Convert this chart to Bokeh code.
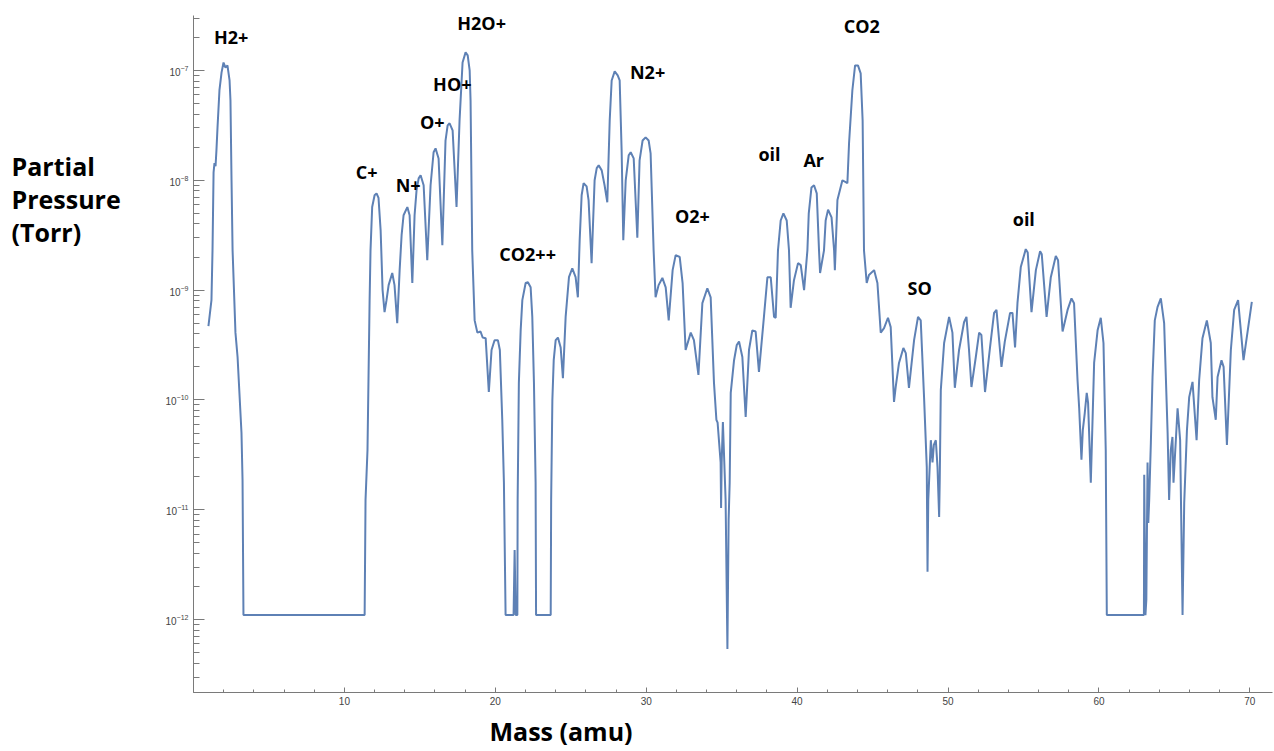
from bokeh.plotting import figure
from bokeh.layouts import row
from bokeh.models import Range1d, FixedTicker, SingleIntervalTicker, LogTickFormatter, ColumnDataSource, Title
from bokeh.core.properties import value
from bokeh.embed import file_html
from bokeh.resources import INLINE

# ---- data ----
mass = [
    0.99, 1.19, 1.26, 1.33, 1.39, 1.46, 1.52, 1.59, 1.72, 1.86, 1.99, 2.12, 2.25, 2.39, 2.45, 2.52, 2.59, 2.78, 2.92,
    3.18, 3.25, 3.31, 11.34, 11.40, 11.53, 11.67, 11.73, 11.84, 12.00, 12.13, 12.26, 12.40, 12.53, 12.66, 12.79, 12.93,
    13.17, 13.32, 13.50, 13.66, 13.79, 13.92, 14.17, 14.32, 14.50, 14.65, 14.78, 14.92, 15.05, 15.25, 15.49, 15.71,
    15.91, 16.04, 16.24, 16.49, 16.70, 16.84, 16.97, 17.17, 17.43, 17.63, 17.83, 18.03, 18.17, 18.30, 18.36, 18.47,
    18.63, 18.81, 19.02, 19.16, 19.36, 19.57, 19.75, 19.95, 20.17, 20.30, 20.46, 20.57, 20.68, 21.21, 21.28, 21.35,
    21.46, 21.48, 21.56, 21.68, 21.79, 22.01, 22.16, 22.34, 22.45, 22.56, 22.67, 22.70, 23.67, 23.70, 23.78, 23.87,
    24.00, 24.15, 24.33, 24.48, 24.66, 24.88, 25.10, 25.32, 25.47, 25.59, 25.72, 25.85, 26.05, 26.18, 26.38, 26.58,
    26.72, 26.85, 27.05, 27.24, 27.42, 27.58, 27.71, 27.91, 28.11, 28.24, 28.37, 28.48, 28.64, 28.84, 28.97, 29.17,
    29.41, 29.56, 29.76, 29.96, 30.16, 30.29, 30.49, 30.62, 30.82, 31.07, 31.29, 31.49, 31.75, 31.95, 32.22, 32.41,
    32.61, 32.95, 33.16, 33.46, 33.72, 34.05, 34.27, 34.49, 34.65, 34.73, 34.93, 34.96, 35.00, 35.08, 35.26, 35.38,
    35.46, 35.53, 35.60, 35.82, 36.00, 36.15, 36.37, 36.59, 36.81, 37.03, 37.25, 37.47, 37.80, 38.03, 38.25, 38.47,
    38.58, 38.73, 38.91, 39.09, 39.31, 39.46, 39.57, 39.79, 40.06, 40.24, 40.46, 40.68, 40.77, 40.95, 41.12, 41.30,
    41.45, 41.52, 41.78, 41.89, 42.05, 42.28, 42.45, 42.50, 42.67, 43.00, 43.33, 43.44, 43.66, 43.84, 44.03, 44.21,
    44.34, 44.43, 44.61, 44.76, 45.10, 45.32, 45.54, 45.76, 46.02, 46.20, 46.42, 46.53, 46.75, 47.04, 47.20, 47.41,
    47.75, 48.01, 48.19, 48.41, 48.59, 48.64, 48.69, 48.86, 48.97, 49.06, 49.19, 49.30, 49.41, 49.45, 49.52, 49.74,
    50.07, 50.29, 50.45, 50.73, 51.06, 51.22, 51.39, 51.55, 51.84, 52.06, 52.21, 52.45, 52.78, 53.05, 53.21, 53.54,
    53.76, 54.11, 54.27, 54.44, 54.60, 54.82, 55.15, 55.28, 55.53, 55.82, 56.10, 56.21, 56.53, 56.81, 57.14, 57.29,
    57.59, 57.92, 58.18, 58.35, 58.58, 58.69, 58.84, 58.93, 59.06, 59.19, 59.28, 59.46, 59.68, 59.91, 60.12, 60.30,
    60.45, 60.52, 62.98, 63.00, 63.08, 63.14, 63.22, 63.27, 63.33, 63.44, 63.55, 63.70, 63.88, 64.10, 64.32, 64.55,
    64.65, 64.76, 64.87, 64.94, 65.21, 65.38, 65.54, 65.65, 65.83, 65.98, 66.20, 66.47, 66.64, 66.86, 67.15, 67.41,
    67.52, 67.74, 67.86, 68.12, 68.26, 68.48, 68.74, 68.96, 69.22, 69.58, 69.84, 70.13,
]
pressure = [
    4.7e-10, 8.1e-10, 2.3e-9, 1.18e-8, 1.43e-8, 1.34e-8, 1.87e-8, 3.0e-8, 6.6e-8, 9.6e-8, 1.18e-7, 1.06e-7, 1.11e-7, 8.1e-8, 5.3e-8, 1.0e-8, 2.3e-9, 4.1e-10, 2.46e-10,
    5.0e-11, 1.87e-11, 1.1e-12, 1.1e-12, 1.23e-11, 3.5e-11, 8.1e-10, 2.3e-9, 5.7e-9, 7.3e-9, 7.6e-9, 6.9e-9, 3.5e-9, 1.0e-9, 6.3e-10, 8.1e-10, 1.11e-9,
    1.43e-9, 1.11e-9, 5.0e-10, 1.52e-9, 3.16e-9, 4.8e-9, 5.7e-9, 4.8e-9, 1.16e-9, 4.8e-9, 8.1e-9, 1.04e-8, 1.11e-8, 9.0e-9, 1.87e-9, 9.0e-9,
    1.8e-8, 1.95e-8, 1.58e-8, 2.56e-9, 2.3e-8, 3.16e-8, 3.3e-8, 2.85e-8, 5.7e-9, 3.5e-8, 1.18e-7, 1.46e-7, 1.37e-7, 1.0e-7, 5.3e-8, 2.3e-9,
    5.3e-10, 4.1e-10, 4.2e-10, 3.7e-10, 3.65e-10, 1.18e-10, 2.85e-10, 3.5e-10, 3.5e-10, 2.85e-10, 6.6e-11, 1.76e-11, 1.1e-12, 1.1e-12, 4.3e-12, 1.1e-12,
    1.1e-12, 1.23e-11, 1.43e-10, 4.3e-10, 8.1e-10, 1.16e-9, 1.18e-9, 1.06e-9, 5.7e-10, 1.43e-10, 1.76e-11, 1.1e-12, 1.1e-12, 1.23e-11, 1.0e-10, 2.3e-10,
    3.5e-10, 3.7e-10, 3.0e-10, 1.58e-10, 5.7e-10, 1.31e-9, 1.58e-9, 1.31e-9, 8.6e-10, 2.85e-9, 7.3e-9, 9.4e-9, 8.8e-9, 6.6e-9, 1.76e-9, 1.0e-8,
    1.29e-8, 1.37e-8, 1.23e-8, 9.0e-9, 6.3e-9, 3.5e-8, 8.1e-8, 9.8e-8, 9.0e-8, 8.1e-8, 1.87e-8, 2.85e-9, 1.0e-8, 1.69e-8, 1.8e-8, 1.58e-8,
    3.0e-9, 1.52e-8, 2.3e-8, 2.46e-8, 2.3e-8, 1.76e-8, 2.3e-9, 8.6e-10, 1.11e-9, 1.29e-9, 1.06e-9, 5.3e-10, 1.52e-9, 2.08e-9, 2.0e-9, 1.16e-9,
    2.85e-10, 4.1e-10, 3.5e-10, 1.69e-10, 7.6e-10, 1.04e-9, 8.6e-10, 1.43e-10, 6.6e-11, 6.2e-11, 2.7e-11, 1.04e-11, 2.7e-11, 6.3e-11, 1.23e-11, 5.4e-13,
    8.1e-12, 1.76e-11, 1.16e-10, 2.3e-10, 3.16e-10, 3.4e-10, 2.46e-10, 7.0e-11, 2.85e-10, 4.3e-10, 4.2e-10, 1.8e-10, 5.7e-10, 1.31e-9, 1.31e-9, 5.7e-10,
    5.6e-10, 2.3e-9, 4.3e-9, 5.0e-9, 4.3e-9, 2.3e-9, 6.9e-10, 1.23e-9, 1.76e-9, 1.69e-9, 1.0e-9, 2.3e-9, 5.0e-9, 8.6e-9, 9.0e-9, 7.6e-9,
    2.3e-9, 1.43e-9, 2.3e-9, 4.3e-9, 5.4e-9, 4.6e-9, 2.3e-9, 1.52e-9, 6.6e-9, 1.0e-8, 9.4e-9, 2.17e-8, 6.6e-8, 1.11e-7, 1.11e-7, 9.4e-8,
    3.5e-8, 2.3e-9, 1.16e-9, 1.37e-9, 1.52e-9, 1.16e-9, 4.1e-10, 4.5e-10, 5.6e-10, 4.6e-10, 9.6e-11, 1.31e-10, 2.17e-10, 2.97e-10, 2.67e-10, 1.29e-10,
    3.5e-10, 5.7e-10, 5.3e-10, 1.06e-10, 2.46e-11, 2.73e-12, 1.23e-11, 4.3e-11, 2.7e-11, 3.9e-11, 4.3e-11, 2.46e-11, 8.6e-12, 1.87e-11, 1.23e-10, 3.3e-10,
    5.7e-10, 4.1e-10, 1.29e-10, 2.85e-10, 5.1e-10, 5.7e-10, 2.85e-10, 1.31e-10, 2.46e-10, 4.1e-10, 3.9e-10, 1.18e-10, 3.0e-10, 6.2e-10, 6.6e-10, 2.0e-10,
    3.4e-10, 6.2e-10, 6.2e-10, 3.0e-10, 7.6e-10, 1.62e-9, 2.36e-9, 2.2e-9, 6.3e-10, 1.52e-9, 2.26e-9, 2.12e-9, 5.7e-10, 1.31e-9, 2.04e-9, 1.87e-9,
    4.2e-10, 6.6e-10, 8.4e-10, 7.6e-10, 1.52e-10, 8.4e-11, 2.85e-11, 5.3e-11, 7.6e-11, 1.16e-10, 9.4e-11, 1.76e-11, 2.17e-10, 4.3e-10, 5.6e-10, 3.3e-10,
    3.5e-11, 1.1e-12, 1.1e-12, 2.08e-11, 1.1e-12, 1.52e-12, 2.7e-11, 7.6e-12, 1.23e-11, 4.1e-11, 1.62e-10, 5.3e-10, 7.0e-10, 8.4e-10, 5.0e-10, 5.0e-11,
    1.23e-11, 3.5e-11, 4.6e-11, 1.76e-11, 8.4e-11, 4.3e-11, 1.1e-12, 1.16e-11, 5.3e-11, 1.06e-10, 1.46e-10, 4.3e-11, 1.52e-10, 3.65e-10, 5.3e-10, 3.3e-10,
    1.06e-10, 6.6e-11, 1.62e-10, 2.3e-10, 2.0e-10, 3.9e-11, 2.85e-10, 6.6e-10, 8.1e-10, 2.3e-10, 4.1e-10, 7.8e-10,
]

peak_labels = ["H2+", "C+", "N+", "O+", "HO+", "H2O+", "CO2++", "N2+", "O2+", "oil", "Ar", "CO2", "SO", "oil"]
label_mass = [2.49, 11.47, 14.22, 15.82, 17.15, 19.09, 22.14, 30.09, 33.06, 38.17, 41.10, 44.28, 48.12, 55.02]
label_pressure = [2.0e-7, 1.18e-8, 9.0e-9, 3.39e-8, 7.57e-8, 2.70e-7, 2.12e-9, 9.6e-8, 4.71e-9, 1.73e-8, 1.52e-8, 2.56e-7, 1.04e-9, 4.47e-9]

y_title_lines = ["Partial", "Pressure", "(Torr)"]
x_title = "Mass (amu)"

decade_ticks = [1e-12, 1e-11, 1e-10, 1e-9, 1e-8, 1e-7]
minor_y = [k * 10.0 ** e for e in range(-13, -6) for k in range(2, 10)]

H = 751
LEFT_W = 150
MAIN_W = 1123

# ---- left strip holding the y-axis title ----
lt = figure(width=LEFT_W, height=H, x_range=Range1d(0, LEFT_W), y_range=Range1d(0, H),
            output_backend="svg", toolbar_location=None, min_border=0,
            x_axis_location=None, y_axis_location=None)
lt.outline_line_color = None
lt.xgrid.visible = False
lt.ygrid.visible = False
lt.text(x=[11, 11, 11], y=[H - 167, H - 204, H - 240], text=y_title_lines,
        text_font=value("Open Sans"), text_font_style="bold", text_font_size="25px",
        text_align="left", text_baseline="middle", text_color="black")

# ---- main plot ----
p = figure(width=MAIN_W, height=H, y_axis_type="log",
           x_range=Range1d(0, 71.5), y_range=Range1d(2.17e-13, 3.162e-7),
           output_backend="svg", toolbar_location=None,
           min_border_left=193 - LEFT_W, min_border_right=1, min_border_top=15, min_border_bottom=H - 693)
p.outline_line_color = None
p.xgrid.visible = False
p.ygrid.visible = False

p.line(mass, pressure, line_color="#5E81B5", line_width=2)

src = ColumnDataSource(dict(x=label_mass, y=label_pressure, t=peak_labels))
p.text(x="x", y="y", text="t", source=src, text_font=value("Open Sans"), text_font_style="bold",
       text_font_size="18px", text_align="center", text_baseline="middle", text_color="black")

axis_color = "#7a7a7a"
label_color = "#444444"

ya = p.yaxis[0]
ya.ticker = FixedTicker(ticks=decade_ticks, minor_ticks=minor_y)
ya.formatter = LogTickFormatter()
ya.axis_line_color = axis_color
ya.major_tick_line_color = axis_color
ya.minor_tick_line_color = axis_color
ya.major_tick_in = 11
ya.major_tick_out = 0
ya.minor_tick_in = 6
ya.minor_tick_out = 0
ya.major_label_standoff = 5
ya.major_label_text_font = "Liberation Sans"
ya.major_label_text_font_size = "10px"
ya.major_label_text_color = label_color

xa = p.xaxis[0]
xa.ticker = SingleIntervalTicker(interval=10, num_minor_ticks=5)
xa.major_label_overrides = {0: ""}
xa.axis_line_color = axis_color
xa.major_tick_line_color = axis_color
xa.minor_tick_line_color = axis_color
xa.major_tick_in = 5
xa.major_tick_out = 0
xa.minor_tick_in = 3
xa.minor_tick_out = 0
xa.major_label_standoff = 4
xa.major_label_text_font = "Liberation Sans"
xa.major_label_text_font_size = "10px"
xa.major_label_text_color = label_color

p.add_layout(Title(text=x_title, align="left", offset=296, standoff=8, text_font="Open Sans",
                   text_font_style="bold", text_font_size="25px", text_color="black"), "below")

open("out.html", "w").write(file_html(row(lt, p), INLINE))
